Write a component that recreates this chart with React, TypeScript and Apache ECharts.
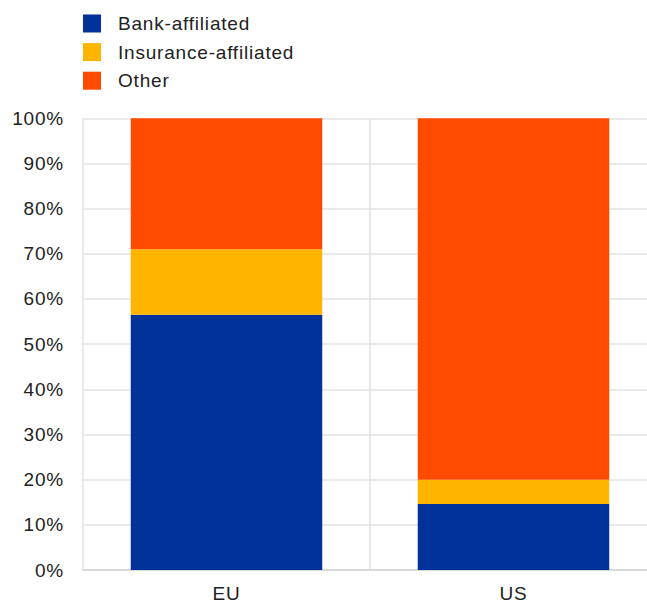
import React, { useEffect, useRef } from "react";
import * as echarts from "echarts";

const categories = ["EU", "US"];
const seriesNames = ["Bank-affiliated", "Insurance-affiliated", "Other"];
const bankValues = [56.5, 14.6];
const insuranceValues = [14.5, 5.4];
const otherValues = [29.0, 80.0];
const colors = ["#003299", "#FFB400", "#FF4B00"];
const yMin = 0;
const yMax = 100;
const yInterval = 10;

const FONT = "'Liberation Sans', Arial, sans-serif";

export default function App() {
  const ref = useRef<HTMLDivElement>(null);
  useEffect(() => {
    if (!ref.current) return;
    const chart = echarts.init(ref.current, undefined, { renderer: "svg" });
    const values = [bankValues, insuranceValues, otherValues];
    chart.setOption({
      animation: false,
      color: colors,
      textStyle: { fontFamily: FONT, color: "#222" },
      legend: {
        orient: "vertical",
        left: 83,
        top: 14,
        padding: 0,
        itemWidth: 18,
        itemHeight: 18,
        itemGap: 9.6,
        icon: "rect",
        data: seriesNames,
        textStyle: {
          fontFamily: FONT,
          fontSize: 19,
          lineHeight: 18,
          color: "#222",
          padding: [0, 0, 0, 12],
        },
      },
      grid: { left: 83, top: 118.3, width: 574, height: 452.4, containLabel: false },
      xAxis: {
        type: "category",
        data: categories,
        axisTick: { show: false },
        axisLine: { show: true, lineStyle: { color: "#d9d9d9", width: 2 } },
        splitLine: { show: true, lineStyle: { color: "#e3e3e3", width: 1.5 } },
        axisLabel: { fontFamily: FONT, fontSize: 19, color: "#222", margin: 14 },
      },
      yAxis: {
        type: "value",
        min: yMin,
        max: yMax,
        interval: yInterval,
        axisLine: { show: false },
        axisTick: { show: false },
        splitLine: { lineStyle: { color: "#e3e3e3", width: 1.5 } },
        axisLabel: {
          fontFamily: FONT,
          fontSize: 19,
          color: "#222",
          margin: 19,
          formatter: "{value}%",
        },
      },
      series: seriesNames.map((name, i) => ({
        name,
        type: "bar",
        stack: "total",
        barWidth: 191.5,
        data: values[i],
        itemStyle: { color: colors[i] },
      })),
    });
    return () => chart.dispose();
  }, []);
  return (
    <div
      style={{
        position: "fixed",
        left: 0,
        top: 0,
        width: 647,
        height: 603,
        overflow: "hidden",
        background: "#fff",
      }}
    >
      <style>{"#chart text{letter-spacing:0.8px}"}</style>
      <div id="chart" ref={ref} style={{ width: 680, height: 603 }} />
    </div>
  );
}
